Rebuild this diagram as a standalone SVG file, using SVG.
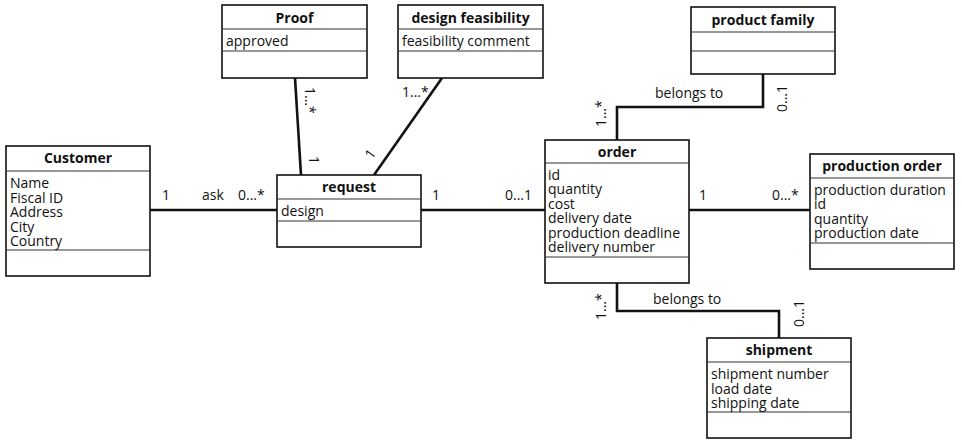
<svg xmlns="http://www.w3.org/2000/svg" width="962" height="443" viewBox="0 0 962 443">
<style>
text{font-family:"Open Sans","DejaVu Sans",sans-serif;font-size:14px;fill:#111}
.t{font-weight:bold;text-anchor:middle}
.box{fill:#fff;stroke:#111;stroke-width:1.6}
.sep{stroke:#333;stroke-width:1.2}
.c{fill:none;stroke:#111;stroke-width:2.6}
</style>
<rect width="962" height="443" fill="#fff"/>
<g id="connectors">
<line class="c" x1="150" y1="210" x2="277" y2="210"/>
<line class="c" x1="421" y1="210" x2="545" y2="210"/>
<line class="c" x1="689" y1="210" x2="810" y2="210"/>
<line class="c" x1="295" y1="78" x2="301" y2="175"/>
<line class="c" x1="442" y1="78" x2="374" y2="175"/>
<polyline class="c" points="763,74 763,107 617,107 617,140"/>
<polyline class="c" points="617,283 617,311 779,311 779,338"/>
<text x="162" y="200">1</text>
<text x="202" y="200">ask</text>
<text x="238" y="200">0...*</text>
<text x="432" y="200">1</text>
<text x="505" y="200">0...1</text>
<text x="699" y="200">1</text>
<text x="772" y="200">0...*</text>
<text transform="translate(305,87) rotate(90)">1...*</text>
<text transform="translate(309,156) rotate(90)">1</text>
<text x="402" y="97">1...*</text>
<text transform="translate(372,160) rotate(-55)">1</text>
<text x="655" y="98">belongs to</text>
<text transform="translate(606,127) rotate(-90)">1...*</text>
<text transform="translate(787,112) rotate(-90)">0...1</text>
<text x="653" y="304">belongs to</text>
<text transform="translate(606,320) rotate(-90)">1...*</text>
<text transform="translate(804,327) rotate(-90)">0...1</text>
</g>
<g id="customer">
<rect class="box" x="6" y="146" width="144" height="130"/>
<line class="sep" x1="6" y1="171" x2="150" y2="171"/>
<line class="sep" x1="6" y1="250" x2="150" y2="250"/>
<text class="t" x="78" y="163">Customer</text>
<text x="10" y="188">Name</text>
<text x="10" y="202.5">Fiscal ID</text>
<text x="10" y="217">Address</text>
<text x="10" y="231.5">City</text>
<text x="10" y="246">Country</text>
</g>
<g id="proof">
<rect class="box" x="222" y="5" width="145" height="73"/>
<line class="sep" x1="222" y1="29" x2="367" y2="29"/>
<line class="sep" x1="222" y1="51" x2="367" y2="51"/>
<text class="t" x="294.5" y="23">Proof</text>
<text x="226" y="46">approved</text>
</g>
<g id="design-feasibility">
<rect class="box" x="398" y="5" width="145" height="73"/>
<line class="sep" x1="398" y1="29" x2="543" y2="29"/>
<line class="sep" x1="398" y1="51" x2="543" y2="51"/>
<text class="t" x="470.5" y="23">design feasibility</text>
<text x="402" y="46">feasibility comment</text>
</g>
<g id="request">
<rect class="box" x="277" y="175" width="144" height="72"/>
<line class="sep" x1="277" y1="199" x2="421" y2="199"/>
<line class="sep" x1="277" y1="221" x2="421" y2="221"/>
<text class="t" x="349" y="192">request</text>
<text x="281" y="216">design</text>
</g>
<g id="product-family">
<rect class="box" x="691" y="7" width="144" height="67"/>
<line class="sep" x1="691" y1="32" x2="835" y2="32"/>
<line class="sep" x1="691" y1="51" x2="835" y2="51"/>
<text class="t" x="763" y="25">product family</text>
</g>
<g id="order">
<rect class="box" x="545" y="140" width="144" height="143"/>
<line class="sep" x1="545" y1="163" x2="689" y2="163"/>
<line class="sep" x1="545" y1="257" x2="689" y2="257"/>
<text class="t" x="617" y="157">order</text>
<text x="548" y="179.5">id</text>
<text x="548" y="194">quantity</text>
<text x="548" y="208.5">cost</text>
<text x="548" y="223">delivery date</text>
<text x="548" y="237.5">production deadline</text>
<text x="548" y="252">delivery number</text>
</g>
<g id="production-order">
<rect class="box" x="810" y="154" width="144" height="115"/>
<line class="sep" x1="810" y1="178" x2="954" y2="178"/>
<line class="sep" x1="810" y1="243" x2="954" y2="243"/>
<text class="t" x="882" y="171">production order</text>
<text x="814" y="194.5">production duration</text>
<text x="814" y="209">id</text>
<text x="814" y="223.5">quantity</text>
<text x="814" y="238">production date</text>
</g>
<g id="shipment">
<rect class="box" x="707" y="338" width="144" height="100"/>
<line class="sep" x1="707" y1="362" x2="851" y2="362"/>
<line class="sep" x1="707" y1="412" x2="851" y2="412"/>
<text class="t" x="779" y="355">shipment</text>
<text x="711" y="379">shipment number</text>
<text x="711" y="393.5">load date</text>
<text x="711" y="408">shipping date</text>
</g>
</svg>
